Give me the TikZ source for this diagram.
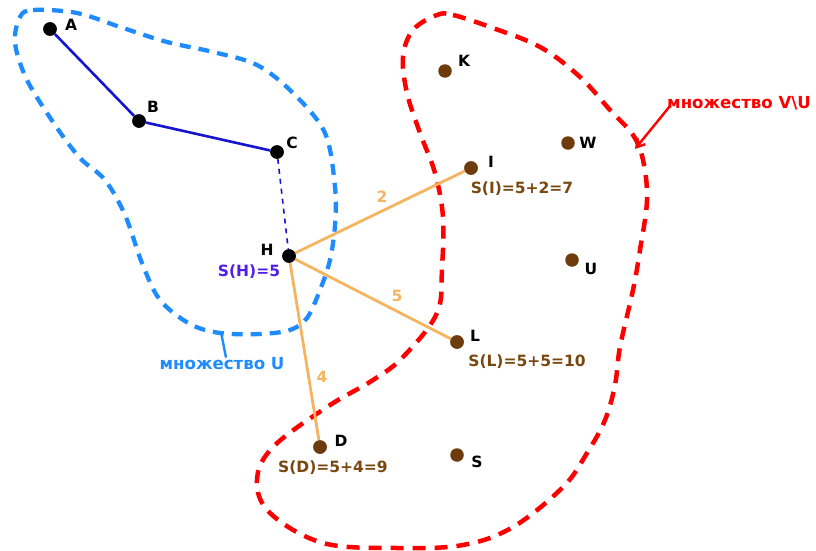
\documentclass[tikz,border=0pt]{standalone}
\usepackage{fontspec}
\setmainfont{DejaVu Sans}
\usetikzlibrary{arrows.meta}
\definecolor{setblue}{RGB}{30,140,255}
\definecolor{setred}{RGB}{255,0,0}
\definecolor{edgeblue}{RGB}{20,20,210}
\definecolor{edgeorange}{RGB}{245,180,95}
\definecolor{dotbrown}{RGB}{110,60,12}
\definecolor{txtbrown}{RGB}{120,72,16}
\definecolor{hviolet}{RGB}{80,30,230}
\begin{document}
\begin{tikzpicture}[x=1pt,y=-1pt,
  every node/.style={font=\fontsize{15.5}{17}\selectfont\bfseries, inner sep=0pt},
  setfont/.style={font=\fontsize{16.6}{18}\selectfont\bfseries},
  vblack/.style={circle, fill=black, minimum size=13.5pt},
  vbrown/.style={circle, fill=dotbrown, minimum size=13.5pt},
  lbl/.style={text=black},
  sum/.style={text=txtbrown},
  wt/.style={text=edgeorange},
  bluebound/.style={draw=setblue, line width=4.3pt, dash pattern=on 11pt off 8pt},
  redbound/.style={draw=setred, line width=4.5pt, dash pattern=on 13pt off 9pt},
  oedge/.style={draw=edgeorange, line width=2.8pt},
  bedge/.style={draw=edgeblue, line width=2.6pt}]
\useasboundingbox (0,0) rectangle (816,551);
% regions
\draw[bluebound] plot[smooth cycle, tension=0.55] coordinates {
 (20,17) (33,10) (77,13) (123,28) (167,42) (213,52) (257,65) (293,93) (325,133)
 (335,187) (335,225) (330,260) (320,290) (307,318) (290,330) (260,334) (220,333)
 (190,324) (160,300) (142,263) (125,215) (105,180) (80,158) (55,125) (27,80) (15,43)};
\draw[redbound] plot[smooth cycle, tension=0.6] coordinates {
 (437,15) (453,15) (490,27) (540,47) (580,77) (610,110) (633,135) (643,160)
 (647,200) (640,250) (633,290) (620,347) (615,385) (605,420) (587,453) (563,487)
 (513,527) (463,545) (397,548) (323,543) (270,513) (257,480) (273,447) (327,407)
 (373,380) (403,357) (437,313) (442,267) (443,217) (435,173) (420,133) (407,93)
 (403,57) (413,30)};
% vertices
\node[vblack] (A) at (50,29) {};
\node[vblack] (B) at (139,121) {};
\node[vblack] (C) at (277,152) {};
\node[vblack] (H) at (289,256) {};
\node[vbrown] (I) at (471,168) {};
\node[vbrown] (K) at (445,71) {};
\node[vbrown] (W) at (568,143) {};
\node[vbrown] (Uv) at (572,260) {};
\node[vbrown] (L) at (457,342) {};
\node[vbrown] (D) at (320,447) {};
\node[vbrown] (S) at (457,455) {};
% edges
\draw[bedge] (A) -- (B) -- (C);
\draw[draw=edgeblue, line width=1.6pt, dash pattern=on 5pt off 5pt] (C) -- (H);
\draw[oedge] (H) -- (I);
\draw[oedge] (H) -- (L);
\draw[oedge] (H) -- (D);
\foreach \v in {A,B,C,H} \node[vblack] at (\v) {};
\foreach \v in {I,L,D} \node[vbrown] at (\v) {};
% vertex labels
\node[lbl] (lA) at (71,25) {A};
\node[lbl] (lB) at (153,107) {B};
\node[lbl] (lC) at (292,143) {C};
\node[lbl] (lH) at (267,250) {H};
\node[lbl] (lI) at (491,162) {I};
\node[lbl] (lK) at (464,61) {K};
\node[lbl] (lW) at (588,143) {W};
\node[lbl] (lU) at (591,269) {U};
\node[lbl] (lL) at (475,336) {L};
\node[lbl] (lD) at (341,441) {D};
\node[lbl] (lS) at (477,462) {S};
% sums
\node[text=hviolet] (sH) at (249,272) {S(H)=5};
\node[sum] (sI) at (522,189) {S(I)=5+2=7};
\node[sum] (sL) at (527,362) {S(L)=5+5=10};
\node[sum] (sD) at (333,468) {S(D)=5+4=9};
% weights
\node[wt] (w2) at (382,197) {2};
\node[wt] (w5) at (397,296) {5};
\node[wt] (w4) at (322,377) {4};
% set labels
\node[text=setblue, setfont] (setU) at (222,364) {множество U};
\coordinate (uTop) at (221,332);
\draw[setblue, line width=2.4pt] (uTop) -- (setU.north -| 226,0);
\node[text=setred, setfont, anchor=west] (setVU) at (667,103) {множество V\textbackslash U};
\coordinate (vuTip) at (635,149);
\coordinate (vuStart) at (670,106);
\draw[setred, line width=2.4pt, -{Straight Barb[length=8pt,width=10pt]}] (vuStart) -- (vuTip);
\end{tikzpicture}
\end{document}
